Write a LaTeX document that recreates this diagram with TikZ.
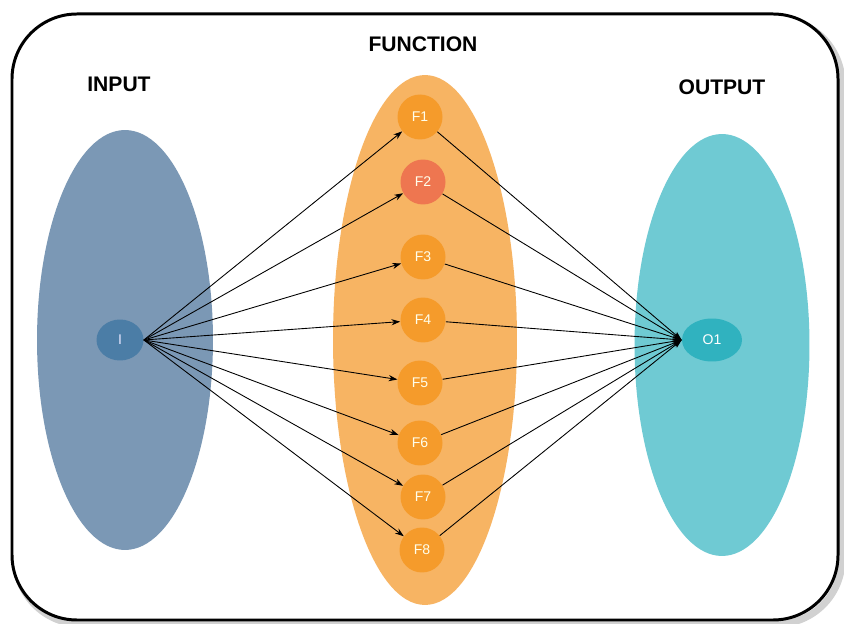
\documentclass[tikz,border=0pt]{standalone}
\usepackage{fontspec}
\setmainfont{Liberation Sans}
\usepackage{tikz}
\usetikzlibrary{arrows.meta, shapes.geometric}

\definecolor{inset}{HTML}{7B98B5}
\definecolor{funset}{HTML}{F7B463}
\definecolor{outset}{HTML}{6FCAD3}
\definecolor{innode}{HTML}{4B7DA6}
\definecolor{funnode}{HTML}{F59B2B}
\definecolor{hotnode}{HTML}{EE7650}
\definecolor{outnode}{HTML}{30B2BF}

\tikzset{
  setblob/.style={ellipse, draw=none},
  elem/.style={circle, draw=none, fill=funnode, minimum size=0.9cm, inner sep=0pt,
               text=white!92!yellow, font=\fontsize{8}{9}\selectfont},
  title/.style={font=\fontsize{12}{14}\selectfont\bfseries},
  edge/.style={-{Stealth[length=5pt,width=3.5pt]}, line width=0.5pt, black}
}

\begin{document}
\begin{tikzpicture}[x=0.02cm, y=-0.02cm]
            \useasboundingbox (0,0) rectangle (844,624);

            % frame
            \draw[line width=4pt, black!18, rounded corners=1.3cm] (16,19) rectangle (842,624);
            \draw[line width=1.7pt, fill=white, rounded corners=1.3cm] (12,14) rectangle (838,620);

            % the three sets
            \node[setblob, fill=inset,  minimum width=3.52cm, minimum height=8.4cm]  at (125, 340) (inset) {};
            \node[setblob, fill=funset, minimum width=3.68cm, minimum height=10.6cm] at (425, 340) (funset) {};
            \node[setblob, fill=outset, minimum width=3.5cm,  minimum height=8.44cm] at (722, 345) (outset) {};

            \node[title] at (119, 84)  (tin)  {INPUT};
            \node[title] at (423, 44)  (tfun) {FUNCTION};
            \node[title] at (722, 87)  (tout) {OUTPUT};

            % elements
            \node[ellipse, fill=innode, minimum width=0.94cm, minimum height=0.82cm, inner sep=0pt,
                  text=white!90!blue, font=\fontsize{8}{9}\selectfont] at (120, 340) (I) {I};
            \node[elem] at (420, 117) (F1) {F1};
            \node[elem, fill=hotnode] at (423, 182) (F2) {F2};
            \node[elem] at (423, 257) (F3) {F3};
            \node[elem] at (423, 320) (F4) {F4};
            \node[elem] at (420, 383) (F5) {F5};
            \node[elem] at (420, 443) (F6) {F6};
            \node[elem] at (423, 497) (F7) {F7};
            \node[elem] at (422, 550) (F8) {F8};
            \node[ellipse, fill=outnode, minimum width=1.2cm, minimum height=0.86cm, inner sep=0pt,
                  text=white, font=\fontsize{8}{9}\selectfont] at (712, 340) (O1) {O1};

            % input to functions
            \draw[edge] (I.east) -- (F1);
            \draw[edge] (I.east) -- (F2);
            \draw[edge] (I.east) -- (F3);
            \draw[edge] (I.east) -- (F4);
            \draw[edge] (I.east) -- (F5);
            \draw[edge] (I.east) -- (F6);
            \draw[edge] (I.east) -- (F7);
            \draw[edge] (I.east) -- (F8);

            % functions to output
            \draw[edge] (F1) -- (O1.west);
            \draw[edge] (F2) -- (O1.west);
            \draw[edge] (F3) -- (O1.west);
            \draw[edge] (F4) -- (O1.west);
            \draw[edge] (F5) -- (O1.west);
            \draw[edge] (F6) -- (O1.west);
            \draw[edge] (F7) -- (O1.west);
            \draw[edge] (F8) -- (O1.west);
            
\end{tikzpicture}
\end{document}
